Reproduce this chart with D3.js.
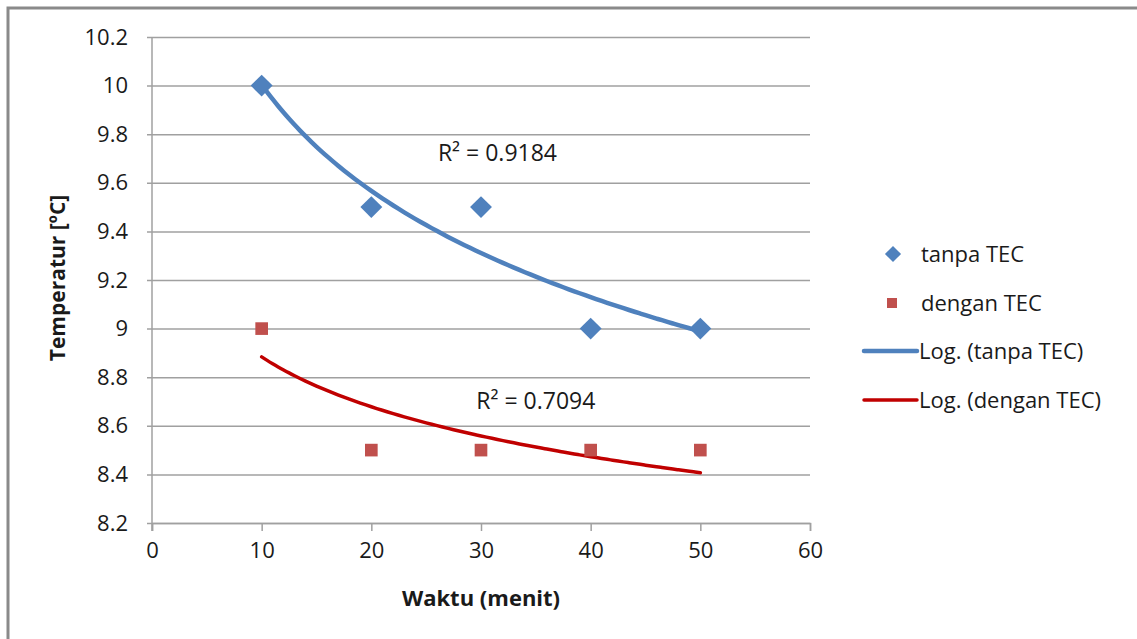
<!DOCTYPE html>
<html>
<head>
<meta charset="utf-8">
<script src="https://cdn.jsdelivr.net/npm/d3@7"></script>
<style>
  body { margin: 0; background: #fff; }
  svg text { font-family: "Open Sans", Lato, sans-serif; fill: #1a1a1a; }
</style>
</head>
<body>
<div id="chart"></div>
<script>
// waktu (menit) vs temperatur, two series + logarithmic trendlines
const waktu = [10, 20, 30, 40, 50];
const tanpaTEC = [10, 9.5, 9.5, 9, 9];
const denganTEC = [9, 8.5, 8.5, 8.5, 8.5];
const xTicks = [0, 10, 20, 30, 40, 50, 60];
const yTicks = [8.2, 8.4, 8.6, 8.8, 9, 9.2, 9.4, 9.6, 9.8, 10, 10.2];
const r2Labels = ['R² = 0.9184', 'R² = 0.7094'];
const legendLabels = ['tanpa TEC', 'dengan TEC', 'Log. (tanpa TEC)', 'Log. (dengan TEC)'];

const svgWidth = 1137;
const svgHeight = 639;
const margin = { top: 37, left: 152 };
const width = 658;
const height = 486;
const fontFam = '"Open Sans", Lato, sans-serif';

const svg = d3.select('#chart')
    .append('svg')
    .attr('width', svgWidth)
    .attr('height', svgHeight);

// chart frame (only top + left edges fall inside the picture)
svg.append('path')
    .attr('d', `M8,${svgHeight} L8,8 L${svgWidth},8`)
    .attr('fill', 'none')
    .attr('stroke', '#8a8a8a')
    .attr('stroke-width', 3);

const g = svg.append('g')
    .attr('transform', `translate(${margin.left},${margin.top})`);

const xScale = d3.scaleLinear().domain([0, 60]).range([0, width]);
const yScale = d3.scaleLinear().domain([8.2, 10.2]).range([height, 0]);

// gridlines + y labels
g.append('g')
    .call(d3.axisLeft(yScale).tickValues(yTicks).tickSize(-width).tickFormat(d3.format('~g')).tickPadding(24))
    .call(ax => ax.select('.domain').remove())
    .call(ax => ax.selectAll('line').attr('stroke', '#a0a0a0').attr('stroke-width', 1.5).attr('x1', -5))
    .call(ax => ax.selectAll('text').attr('font-size', 22).style('font-family', fontFam).attr('fill', '#1a1a1a'));

// x axis
g.append('g')
    .attr('transform', `translate(0,${height})`)
    .call(d3.axisBottom(xScale).tickValues(xTicks).tickSize(8).tickPadding(11))
    .call(ax => ax.select('.domain').attr('stroke', '#a0a0a0').attr('stroke-width', 1.5))
    .call(ax => ax.selectAll('line').attr('stroke', '#a0a0a0').attr('stroke-width', 1.5))
    .call(ax => ax.selectAll('text').attr('font-size', 22).style('font-family', fontFam).attr('fill', '#1a1a1a'));

// y axis line
g.append('line')
    .attr('x1', 0).attr('x2', 0)
    .attr('y1', 0).attr('y2', height + 8)
    .attr('stroke', '#a0a0a0').attr('stroke-width', 1.5);

// logarithmic least-squares fit y = a + b ln(x)
function logFit(xs, ys) {
    const lx = xs.map(Math.log);
    const mx = d3.mean(lx), my = d3.mean(ys);
    const b = d3.sum(lx, (v, i) => (v - mx) * (ys[i] - my)) / d3.sum(lx, v => (v - mx) ** 2);
    const a = my - b * mx;
    return x => a + b * Math.log(x);
}

const series = [
    { values: tanpaTEC, color: '#4f81bd', trend: '#4f81bd', tw: 4.5, rot: 45, size: 240 },
    { values: denganTEC, color: '#c0504d', trend: '#c00000', tw: 3.5, rot: 0, size: 160 }
];

const line = d3.line().x(d => xScale(d[0])).y(d => yScale(d[1])).curve(d3.curveMonotoneX);

series.forEach(s => {
    const f = logFit(waktu, s.values);
    const pts = d3.range(10, 50.01, 0.5).map(x => [x, f(x)]);
    g.append('path')
        .datum(pts)
        .attr('d', line)
        .attr('fill', 'none')
        .attr('stroke', s.trend)
        .attr('stroke-width', s.tw)
        .attr('stroke-linecap', 'round');
});

series.forEach(s => {
    g.selectAll(null)
        .data(waktu.map((x, i) => [x, s.values[i]]))
        .enter()
        .append('path')
        .attr('d', d3.symbol().type(d3.symbolSquare).size(s.size))
        .attr('transform', d => `translate(${xScale(d[0])},${yScale(d[1])}) rotate(${s.rot})`)
        .attr('fill', s.color);
});

// R² labels
g.append('text')
    .attr('x', xScale(31.5)).attr('y', yScale(9.69))
    .attr('text-anchor', 'middle').attr('font-size', 23)
    .text(r2Labels[0]);
g.append('text')
    .attr('x', xScale(35)).attr('y', yScale(8.67))
    .attr('text-anchor', 'middle').attr('font-size', 23)
    .text(r2Labels[1]);

// axis titles
svg.append('text')
    .attr('transform', 'translate(65,278) rotate(-90)')
    .attr('text-anchor', 'middle')
    .attr('font-size', 21).attr('font-weight', 'bold')
    .text('Temperatur [ºC]');
svg.append('text')
    .attr('x', 481).attr('y', 606)
    .attr('text-anchor', 'middle')
    .attr('font-size', 22).attr('font-weight', 'bold')
    .text('Waktu (menit)');

// legend
const legend = svg.append('g');
const legendY = [254, 303, 351, 400];
legend.append('path')
    .attr('d', d3.symbol().type(d3.symbolSquare).size(130))
    .attr('transform', `translate(893,${legendY[0]}) rotate(45)`)
    .attr('fill', '#4f81bd');
legend.append('path')
    .attr('d', d3.symbol().type(d3.symbolSquare).size(100))
    .attr('transform', `translate(892,${legendY[1]})`)
    .attr('fill', '#c0504d');
legend.append('line')
    .attr('x1', 864).attr('x2', 917).attr('y1', legendY[2]).attr('y2', legendY[2])
    .attr('stroke', '#4f81bd').attr('stroke-width', 4.5).attr('stroke-linecap', 'round');
legend.append('line')
    .attr('x1', 864).attr('x2', 917).attr('y1', legendY[3]).attr('y2', legendY[3])
    .attr('stroke', '#c00000').attr('stroke-width', 3.5).attr('stroke-linecap', 'round');
legend.selectAll('text.lbl')
    .data(legendLabels)
    .enter()
    .append('text')
    .attr('class', 'lbl')
    .attr('x', (d, i) => i < 2 ? 921 : 919)
    .attr('y', (d, i) => legendY[i] + 8)
    .attr('font-size', 22)
    .text(d => d);
</script>
</body>
</html>
